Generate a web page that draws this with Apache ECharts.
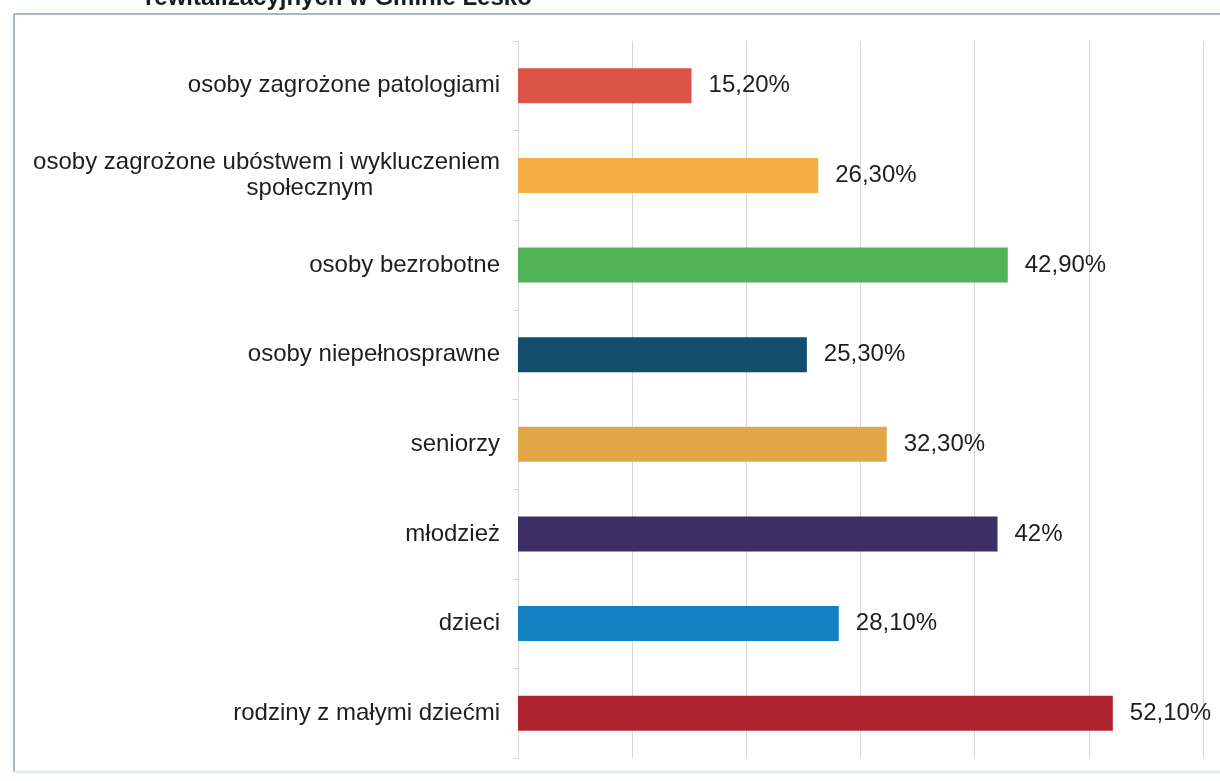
<!DOCTYPE html>
<html>
<head>
<meta charset="utf-8">
<script src="https://cdn.jsdelivr.net/npm/echarts@6/dist/echarts.min.js"></script>
<style>
html,body{margin:0;padding:0;background:#fff;}
#chart{width:1220px;height:781px;}
</style>
</head>
<body>
<div id="chart"></div>
<script>
const categories = [
  "osoby zagrożone patologiami",
  "osoby zagrożone ubóstwem i wykluczeniem\nspołecznym",
  "osoby bezrobotne",
  "osoby niepełnosprawne",
  "seniorzy",
  "młodzież",
  "dzieci",
  "rodziny z małymi dziećmi"
];
const values = [15.2, 26.3, 42.9, 25.3, 32.3, 42, 28.1, 52.1];
const valueLabels = ["15,20%", "26,30%", "42,90%", "25,30%", "32,30%", "42%", "28,10%", "52,10%"];
const barColors = ["#dc5448", "#f4ae43", "#52b356", "#114d6c", "#e2a746", "#3b2f63", "#1380c1", "#b0252f"];
const titleText = "rewitalizacyjnych w Gminie Lesko";

const chart = echarts.init(document.getElementById('chart'), null, {renderer: 'canvas'});
const font = '"Liberation Sans", Arial, sans-serif';

chart.setOption({
  animation: false,
  backgroundColor: '#ffffff',
  grid: {left: 518, right: 17, top: 41, bottom: 23, containLabel: false},
  xAxis: {
    type: 'value', min: 0, max: 60, interval: 10,
    axisLabel: {show: false},
    axisLine: {show: false},
    axisTick: {show: false},
    splitLine: {show: true, lineStyle: {color: '#d6d6d6', width: 1}}
  },
  yAxis: {
    type: 'category', inverse: true, data: categories,
    axisLine: {show: true, lineStyle: {color: '#dcdcdc'}},
    axisTick: {show: true, length: 5, lineStyle: {color: '#d0d0d0'}},
    axisLabel: {
      fontFamily: font, fontSize: 24, color: '#1e1e1e', margin: 18, lineHeight: 26,
      formatter: function (v) {
        const parts = v.split('\n');
        if (parts.length > 1) {
          parts[1] = parts[1] + '\u00a0'.repeat(19);
        }
        return parts.join('\n');
      }
    }
  },
  series: [{
    type: 'bar',
    data: values.map((v, i) => ({value: v, itemStyle: {color: barColors[i]}})),
    barWidth: 35,
    label: {
      show: true, position: 'right', distance: 17,
      fontFamily: font, fontSize: 24, color: '#1e1e1e',
      formatter: p => valueLabels[p.dataIndex]
    }
  }],
  graphic: [
    {type: 'line', shape: {x1: 14, y1: 14, x2: 1220, y2: 14}, style: {stroke: '#7fa6bf', lineWidth: 1.5}},
    {type: 'line', shape: {x1: 14, y1: 14, x2: 14, y2: 772}, style: {stroke: '#7fa6bf', lineWidth: 1.5}},
    {type: 'line', shape: {x1: 14, y1: 772, x2: 1220, y2: 772}, style: {stroke: '#dceff4', lineWidth: 3}},
    {type: 'text', left: 145, top: -14, style: {text: titleText, font: 'bold 24px "Liberation Sans", Arial, sans-serif', fill: '#1a1a1a'}}
  ]
});
</script>
</body>
</html>
